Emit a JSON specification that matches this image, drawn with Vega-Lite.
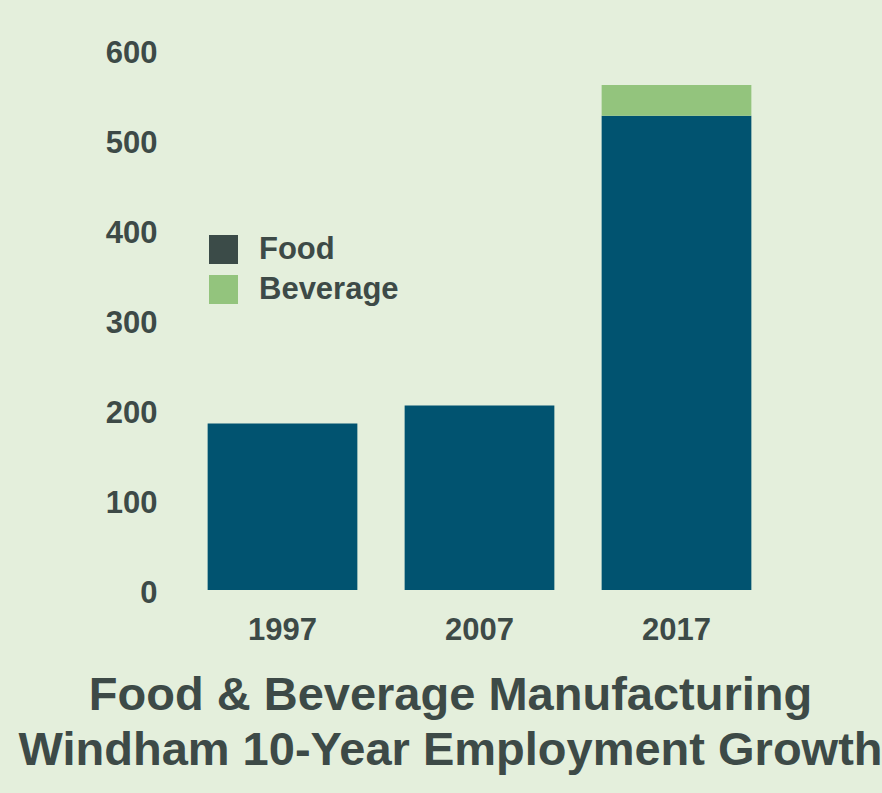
{
  "$schema": "https://vega.github.io/schema/vega-lite/v6.json",
  "autosize": "none",
  "width": 591,
  "height": 540,
  "padding": {"left": 184, "top": 50, "right": 107, "bottom": 203},
  "background": "#e4efdc",
  "config": {
    "view": {"stroke": null},
    "font": "Liberation Sans"
  },
  "title": {
    "text": ["Food & Beverage Manufacturing", "Windham 10-Year Employment Growth"],
    "orient": "bottom",
    "anchor": "middle",
    "frame": "group",
    "dx": -29,
    "font": "Liberation Sans",
    "fontSize": 47,
    "fontWeight": "bold",
    "color": "#3d4a47",
    "lineHeight": 55,
    "offset": 28
  },
  "data": {
    "values": [
      {"year": "1997", "type": "Food", "employment": 185},
      {"year": "2007", "type": "Food", "employment": 205},
      {"year": "2017", "type": "Food", "employment": 527},
      {"year": "2017", "type": "Beverage", "employment": 34}
    ]
  },
  "resolve": {"scale": {"fill": "independent"}, "legend": {"fill": "independent"}},
  "encoding": {
    "x": {
      "field": "year",
      "type": "nominal",
      "scale": {"paddingInner": 0.24, "paddingOuter": 0.12},
      "axis": {
        "title": null,
        "labelAngle": 0,
        "domain": false,
        "ticks": false,
        "labelFont": "Liberation Sans",
        "labelFontSize": 31,
        "labelFontWeight": "bold",
        "labelColor": "#3d4a47",
        "labelPadding": 25
      }
    },
    "y": {
      "field": "employment",
      "type": "quantitative",
      "aggregate": "sum",
      "scale": {"domain": [0, 600], "nice": false},
      "axis": {
        "title": null,
        "values": [0, 100, 200, 300, 400, 500, 600],
        "grid": false,
        "domain": false,
        "ticks": false,
        "labelFont": "Liberation Sans",
        "labelFontSize": 31,
        "labelFontWeight": "bold",
        "labelColor": "#3d4a47",
        "labelPadding": 27,
        "labelOffset": 3
      }
    }
  },
  "layer": [
    {
      "mark": {"type": "bar"},
      "encoding": {
        "fill": {
          "field": "type",
          "type": "nominal",
          "scale": {"domain": ["Food", "Beverage"], "range": ["#015370", "#93c47d"]},
          "legend": null
        },
        "order": {"field": "type", "sort": "descending"}
      }
    },
    {
      "mark": {"type": "point", "shape": "square", "filled": true, "opacity": 0, "strokeWidth": 0},
      "encoding": {
        "fill": {
          "field": "type",
          "type": "nominal",
          "scale": {"domain": ["Food", "Beverage"], "range": ["#3b4b48", "#93c47d"]},
          "legend": {
            "title": null,
            "orient": "none",
            "legendX": 24,
            "legendY": 184,
            "padding": 0,
            "symbolType": "square",
            "symbolSize": 841,
            "symbolOpacity": 1,
            "symbolStrokeWidth": 0,
            "labelFont": "Liberation Sans",
            "labelFontSize": 31,
            "labelFontWeight": "bold",
            "labelColor": "#3d4a47",
            "labelOffset": 20,
            "rowPadding": 8
          }
        }
      }
    }
  ]
}
